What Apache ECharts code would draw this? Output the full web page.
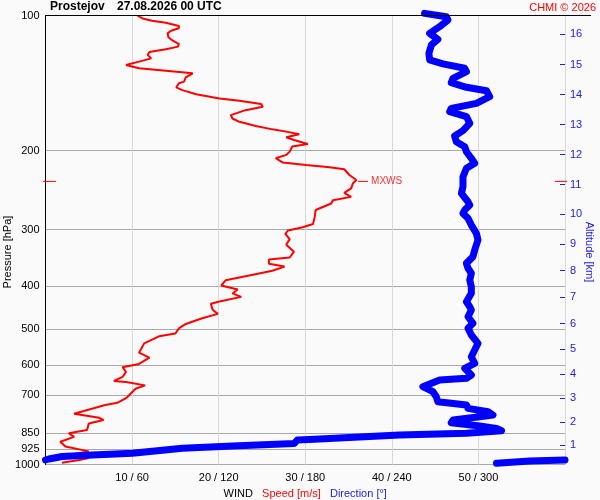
<!DOCTYPE html>
<html><head><meta charset="utf-8">
<script src="https://cdn.jsdelivr.net/npm/echarts@6/dist/echarts.min.js"></script>
<style>html,body{margin:0;padding:0;background:#fafafa}#c{width:600px;height:500px}</style>
</head><body><div id="c"></div>
<script>
const FONT = '"Liberation Sans", Arial, Helvetica, sans-serif';

// tick labels
const pressureTicks = [100, 200, 300, 400, 500, 600, 700, 850, 925, 1000];
const speedTicks = [10, 20, 30, 40, 50];
const directionTicks = [60, 120, 180, 240, 300];
const altitudeKm = [1, 2, 3, 4, 5, 6, 7, 8, 9, 10, 11, 12, 13, 14, 15, 16];
const altitudePressure = [906.3, 804.0, 712.2, 628.7, 554.0, 485.8, 423.6, 370.2, 322.8, 276.8, 238.2, 204.2, 175.1, 150.1, 128.7, 109.9];

// wind speed profile (m/s) vs pressure (hPa)
const speedPressure = [100,101.5,102.7,103.8,105.5,106.8,108.1,109.6,111.8,113.8,
  115.7,117.3,118.9,120.6,122.4,124.6,126.7,128.9,130.0,131.1,
  132.7,134.5,135.6,137.3,140.4,141.6,144.6,146.6,149.7,153.0,
  154.9,157.5,159.7,162.5,166.7,169.6,172.5,176.2,179.3,181.4,
  183.9,186.7,189.3,193.2,195.8,201.0,204.4,207.9,209.0,212.6,
  215.2,217.7,220.0,226.6,232.5,234.1,236.6,242.7,248.3,253.5,
  257.9,262.3,271.2,280.5,291.2,296.1,301.2,306.4,314.8,324.2,
  335.8,345.9,349.6,357.2,362.4,370.2,380.8,388.9,399.3,407.6,
  415.9,423.3,433.3,438.6,452.3,461.8,472.3,486.4,497.7,510.9,
  518.3,537.3,563.7,578.1,597.0,607.0,622.1,638.3,651.6,655.0,
  666.5,678.2,709.4,728.8,737,771,787,796,810,838,
  852,868,890,912,935,952,967,977,991];
const speedValues = [10.6,11.2,12.3,13.9,15.4,15.4,14.5,14.1,14.2,14.7,
  15.4,15.3,13.9,12.0,11.8,12.2,10.8,9.3,9.4,10.8,
  13.9,17.0,17.2,16.2,16.0,15.4,15.1,15.8,17.4,20.1,
  22.4,24.9,25.1,23.1,21.4,21.6,22.4,24.3,26.2,27.8,
  29.3,27.8,28.7,30.3,28.5,28.2,27.8,26.6,26.4,27.4,
  30.1,32.8,34.5,35.1,35.9,36.1,35.5,35.3,34.5,35.3,
  33.2,33.0,31.2,31.1,30.9,29.7,28.0,27.7,28.2,27.8,
  28.7,28.2,25.8,25.8,27.6,26.2,23.1,20.8,20.3,22.2,
  21.6,22.6,20.1,19.1,19.3,19.9,18.1,16.2,15.4,15.0,
  13.1,11.4,10.8,12.0,10.8,8.9,9.3,8.9,7.9,9.3,
  11.5,10.4,9.4,8.3,6.9,3.3,6.2,6.7,5.0,4.8,
  2.7,3.3,1.7,2.3,5.0,2.7,5.0,3.9,1.9];

// wind direction profile (deg) vs pressure (hPa)
const directionPressure = [98.9,100.6,102.3,105.9,109.6,113.0,116.3,121.4,125.6,128.2,
  131.1,133.4,138.0,141.1,144.5,147.1,151.6,156.9,161.0,163.8,
  168.0,173.8,180.5,185.5,191.0,196.0,201.1,208.0,213.4,218.9,
  228.6,240.6,248.9,259.9,264.4,271.2,275.9,283.0,292.9,305.6,
  316.2,332.9,344.5,356.4,365.6,375.1,388.2,401.8,415.6,434.1,
  445.3,452.9,468.8,484.9,497.4,514.8,537.2,556.0,575.4,595.2,
  610.6,632.0,642.8,648.4,671.0,688.5,706.3,725.0,737.4,749.9,
  763.1,776.1,782.9,796.2,807.3,821.1,830.8,841.0,852.2,859.6,
  870.8,879.6,881.9,897.8,909.4,920.3,944.2,952.4,959.8,972.2,
  977.2,977.2,982.2,993.9];
const directionValues = [262.7,277.8,278.9,273.1,266.2,271.9,267.4,265.7,266.2,275.4,
  290.5,291.7,282.4,281.2,291.7,305.6,307.8,298.6,281.2,280.1,
  291.7,294.0,289.3,283.5,284.7,290.5,291.7,295.1,297.4,291.7,
  289.3,289.3,288.2,292.8,294.0,290.5,289.3,292.8,295.1,298.6,
  299.7,297.4,296.2,291.7,292.8,295.1,294.0,295.1,295.1,291.7,
  294.0,295.1,292.8,296.2,292.8,295.1,299.7,297.4,295.1,297.4,
  290.5,295.1,291.7,273.1,261.5,268.5,270.8,271.9,291.7,292.8,
  306.7,310.1,300.9,282.4,281.2,300.9,312.5,316.0,291.7,245.3,
  210.6,182.8,174.5,172.4,129.6,94.9,60.1,32.4,11.5,2.3,
  0,360,335.7,312.5];

// build series data
const speedData = speedValues.map((v, i) => [v, speedPressure[i]]);
const dirData = [];
directionValues.forEach((v, i) => {
  if (i > 0 && Math.abs(v - directionValues[i - 1]) > 180) dirData.push(['-', '-']);
  dirData.push([v, directionPressure[i]]);
});
let maxIdx = 0;
speedValues.forEach((v, i) => { if (v > speedValues[maxIdx]) maxIdx = i; });
const mxwsSpeed = speedValues[maxIdx];
const mxwsPressure = speedPressure[maxIdx];
const speedMin = 0, speedMax = 60;

const BLUE_TXT = '#2020e0';
const logY = extra => Object.assign({
  type: 'log', logBase: 10, min: 100, max: 1000, inverse: true, gridIndex: 0
}, extra);

const chart = echarts.init(document.getElementById('c'));
chart.setOption({
  backgroundColor: '#fafafa',
  animation: false,
  textStyle: { fontFamily: FONT },
  title: [
    { text: 'Prostejov', left: 50, top: 1, padding: 0,
      textStyle: { fontSize: 12, fontWeight: 'bold', color: '#000', fontFamily: FONT } },
    { text: '27.08.2026 00 UTC', left: 117, top: 1, padding: 0,
      textStyle: { fontSize: 12, fontWeight: 'bold', color: '#000', fontFamily: FONT } },
    { text: 'CHMI © 2026', right: 4, top: 2, padding: 0,
      textStyle: { fontSize: 11, fontWeight: 'normal', color: '#ff0000', fontFamily: FONT } }
  ],
  grid: { left: 45.5, top: 15.5, width: 519.5, height: 449, containLabel: false, outerBoundsMode: 'none' },
  xAxis: [
    {
      type: 'value', min: speedMin, max: speedMax, position: 'bottom', gridIndex: 0,
      axisLine: { show: false },
      axisTick: { show: false, customValues: speedTicks },
      axisLabel: {
        customValues: speedTicks, fontSize: 11, color: '#000', margin: 8, fontFamily: FONT,
        formatter: v => v + ' / ' + directionTicks[speedTicks.indexOf(v)]
      },
      splitLine: { show: true, lineStyle: { color: '#d8d8d8', width: 1 } },
      name: '{w|WIND}   {s|Speed [m/s]}   {d|Direction [°]}',
      nameLocation: 'middle', nameGap: 20,
      nameTextStyle: {
        fontSize: 11, fontFamily: FONT, color: '#000',
        rich: {
          w: { color: '#000', fontSize: 11, fontFamily: FONT },
          s: { color: '#ff0000', fontSize: 11, fontFamily: FONT },
          d: { color: BLUE_TXT, fontSize: 11, fontFamily: FONT }
        }
      }
    },
    { type: 'value', min: 0, max: 360, show: false, gridIndex: 0 }
  ],
  yAxis: [
    logY({
      position: 'left',
      axisLine: { show: true, onZero: false, lineStyle: { color: '#000', width: 1 } },
      axisTick: { show: false, customValues: pressureTicks },
      axisLabel: { customValues: pressureTicks, fontSize: 11, color: '#000', margin: 6, fontFamily: FONT,
                   formatter: v => String(Math.round(v)) },
      splitLine: { show: true, lineStyle: { color: '#a8a8a8', width: 1 } }
    }),
    logY({
      position: 'right',
      axisLine: { show: true, onZero: false, lineStyle: { color: '#d8d8d8', width: 1 } },
      axisTick: { show: true, inside: true, length: 5, customValues: altitudePressure,
                  lineStyle: { color: BLUE_TXT, width: 1 } },
      axisLabel: {
        customValues: altitudePressure, fontSize: 11, color: BLUE_TXT, margin: 5, fontFamily: FONT,
        formatter: v => {
          let best = 0;
          altitudePressure.forEach((p, i) => {
            if (Math.abs(p - v) < Math.abs(altitudePressure[best] - v)) best = i;
          });
          return String(altitudeKm[best]);
        }
      },
      splitLine: { show: false }
    })
  ],
  series: [
    {
      name: 'Speed', type: 'line', xAxisIndex: 0, yAxisIndex: 0,
      data: speedData, showSymbol: false, symbol: 'none', clip: false, z: 2,
      lineStyle: { color: '#ff0000', width: 2 },
      markPoint: {
        silent: true,
        data: [
          {
            coord: [mxwsSpeed, mxwsPressure],
            symbol: 'rect', symbolSize: [10, 1], symbolOffset: [5, 0],
            itemStyle: { color: '#ff0000' },
            label: { show: true, position: 'right', distance: 3, formatter: 'MXWS',
                     color: '#ff3030', fontSize: 10, fontFamily: FONT }
          },
          {
            coord: [speedMin, mxwsPressure],
            symbol: 'rect', symbolSize: [13, 1], symbolOffset: [4, 0],
            itemStyle: { color: '#ff0000' }, label: { show: false }
          },
          {
            coord: [speedMax, mxwsPressure],
            symbol: 'rect', symbolSize: [12, 1], symbolOffset: [-4, 0],
            itemStyle: { color: '#ff0000' }, label: { show: false }
          }
        ]
      }
    },
    {
      name: 'Direction', type: 'line', xAxisIndex: 1, yAxisIndex: 0,
      data: dirData, showSymbol: false, symbol: 'none', clip: false, z: 3,
      connectNulls: false,
      lineStyle: { color: '#0000ff', width: 7, cap: 'round', join: 'round' }
    }
  ],
  graphic: [
    { type: 'line', z: 100, shape: { x1: 45, y1: 15.5, x2: 591, y2: 15.5 },
      style: { stroke: '#000', lineWidth: 1 } },
    { type: 'text', x: 8, y: 252, rotation: Math.PI / 2,
      style: { text: 'Pressure [hPa]', fill: '#000', fontSize: 11, fontFamily: FONT,
               align: 'center', verticalAlign: 'middle' } },
    { type: 'text', x: 589, y: 252, rotation: -Math.PI / 2,
      style: { text: 'Altitude [km]', fill: BLUE_TXT, fontSize: 11, fontFamily: FONT,
               align: 'center', verticalAlign: 'middle' } }
  ]
});
</script>
</body></html>
